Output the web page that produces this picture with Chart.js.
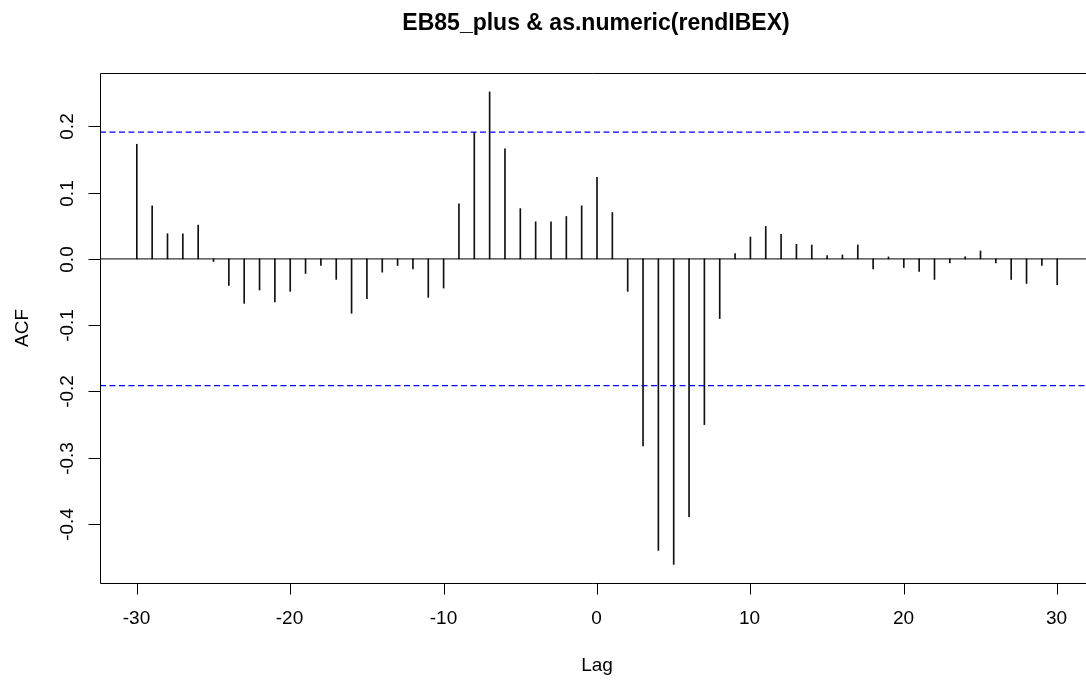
<!DOCTYPE html>
<html>
<head>
<meta charset="utf-8">
<script src="https://cdn.jsdelivr.net/npm/chart.js@4/dist/chart.umd.min.js"></script>
<style>
  html, body { margin: 0; padding: 0; background: #fff; overflow: hidden; }
  #wrap { width: 1086px; height: 680px; position: relative; }
</style>
</head>
<body>
<div id="wrap"><canvas id="ccf" width="1086" height="680"></canvas></div>
<script>
// Cross-correlation of EB85_plus with rendIBEX, lags -30..30
const lags = [];
for (let k = -30; k <= 30; k++) lags.push(k);

const acfValues = [
  0.173, 0.080, 0.038, 0.038, 0.051, -0.004, -0.040, -0.067, -0.047, -0.065,
  -0.049, -0.022, -0.010, -0.031, -0.082, -0.060, -0.020, -0.010, -0.015, -0.058,
  -0.044, 0.083, 0.191, 0.252, 0.166, 0.076, 0.056, 0.056, 0.064, 0.080,
  0.123, 0.070, -0.049, -0.282, -0.440, -0.461, -0.389, -0.250, -0.090, 0.008,
  0.033, 0.049, 0.037, 0.022, 0.021, 0.005, 0.006, 0.021, -0.015, 0.003,
  -0.013, -0.019, -0.031, -0.006, 0.003, 0.012, -0.006, -0.031, -0.037, -0.010,
  -0.039
];

const ciLevel = 0.1913;           // 1.96 / sqrt(n) significance bound

const xTicks = [-30, -20, -10, 0, 10, 20, 30];
const yTicks = [-0.4, -0.3, -0.2, -0.1, 0.0, 0.1, 0.2];
const yTickLabels = ['-0.4', '-0.3', '-0.2', '-0.1', '0.0', '0.1', '0.2'];

const titleText = 'EB85_plus & as.numeric(rendIBEX)';
const xLabel = 'Lag';
const yLabel = 'ACF';

const xMin = -32.4, xMax = 31.877;
const yMin = -0.489, yMax = 0.2805;

const FONT = '"Liberation Sans", Arial, sans-serif';

// Base-graphics style frame: box, ticks, labels, title
const frame = {
  id: 'frame',
  afterDraw(chart) {
    const ctx = chart.ctx;
    const a = chart.chartArea;
    const xs = chart.scales.x, ys = chart.scales.y;
    ctx.save();
    ctx.strokeStyle = '#000';
    ctx.lineWidth = 1;
    // box (right side runs past the canvas)
    ctx.beginPath();
    ctx.moveTo(1100, a.top + 0.5);
    ctx.lineTo(a.left + 0.5, a.top + 0.5);
    ctx.lineTo(a.left + 0.5, a.bottom + 0.5);
    ctx.lineTo(1100, a.bottom + 0.5);
    ctx.stroke();

    ctx.fillStyle = '#000';
    ctx.font = '19px ' + FONT;
    // x axis
    ctx.textAlign = 'center';
    ctx.textBaseline = 'alphabetic';
    xTicks.forEach(v => {
      const px = Math.round(xs.getPixelForValue(v)) + 0.5;
      ctx.beginPath();
      ctx.moveTo(px, a.bottom + 0.5);
      ctx.lineTo(px, a.bottom + 11.5);
      ctx.stroke();
      ctx.fillText(String(v), px - 1, 624);
    });
    // y axis, labels turned parallel to the axis
    yTicks.forEach((v, i) => {
      const py = Math.round(ys.getPixelForValue(v)) + 0.5;
      ctx.beginPath();
      ctx.moveTo(a.left + 0.5, py);
      ctx.lineTo(a.left - 11.5, py);
      ctx.stroke();
      ctx.save();
      ctx.translate(73, py);
      ctx.rotate(-Math.PI / 2);
      ctx.textAlign = 'center';
      ctx.fillText(yTickLabels[i], 0, 0);
      ctx.restore();
    });
    // axis titles
    ctx.textAlign = 'center';
    ctx.fillText(xLabel, 597, 671);
    ctx.save();
    ctx.translate(28, (a.top + a.bottom) / 2);
    ctx.rotate(-Math.PI / 2);
    ctx.fillText(yLabel, 0, 0);
    ctx.restore();
    // main title
    ctx.font = 'bold 23px ' + FONT;
    ctx.fillText(titleText, 596, 29.5);
    ctx.restore();
  }
};

new Chart(document.getElementById('ccf'), {
  type: 'bar',
  data: {
    datasets: [
      {
        type: 'bar',
        data: lags.map((k, i) => ({ x: k, y: acfValues[i] })),
        backgroundColor: '#111',
        borderWidth: 0,
        barThickness: 1,
        order: 3
      },
      {
        type: 'line',
        data: [{ x: xMin, y: 0 }, { x: 40, y: 0 }],
        borderColor: '#000',
        borderWidth: 1,
        pointRadius: 0,
        order: 2
      },
      {
        type: 'line',
        data: [{ x: xMin, y: ciLevel }, { x: 40, y: ciLevel }],
        borderColor: '#0000ff',
        borderWidth: 1.3,
        borderDash: [6, 3.5],
        pointRadius: 0,
        order: 1
      },
      {
        type: 'line',
        data: [{ x: xMin, y: -ciLevel }, { x: 40, y: -ciLevel }],
        borderColor: '#0000ff',
        borderWidth: 1.3,
        borderDash: [6, 3.5],
        pointRadius: 0,
        order: 1
      }
    ]
  },
  options: {
    responsive: false,
    animation: false,
    devicePixelRatio: 1,
    layout: { padding: { left: 100, right: 0, top: 73, bottom: 97 } },
    plugins: { legend: { display: false }, tooltip: { enabled: false }, title: { display: false } },
    scales: {
      x: { type: 'linear', min: xMin, max: xMax, display: false, offset: false },
      y: { type: 'linear', min: yMin, max: yMax, display: false }
    }
  },
  plugins: [frame]
});
</script>
</body>
</html>
